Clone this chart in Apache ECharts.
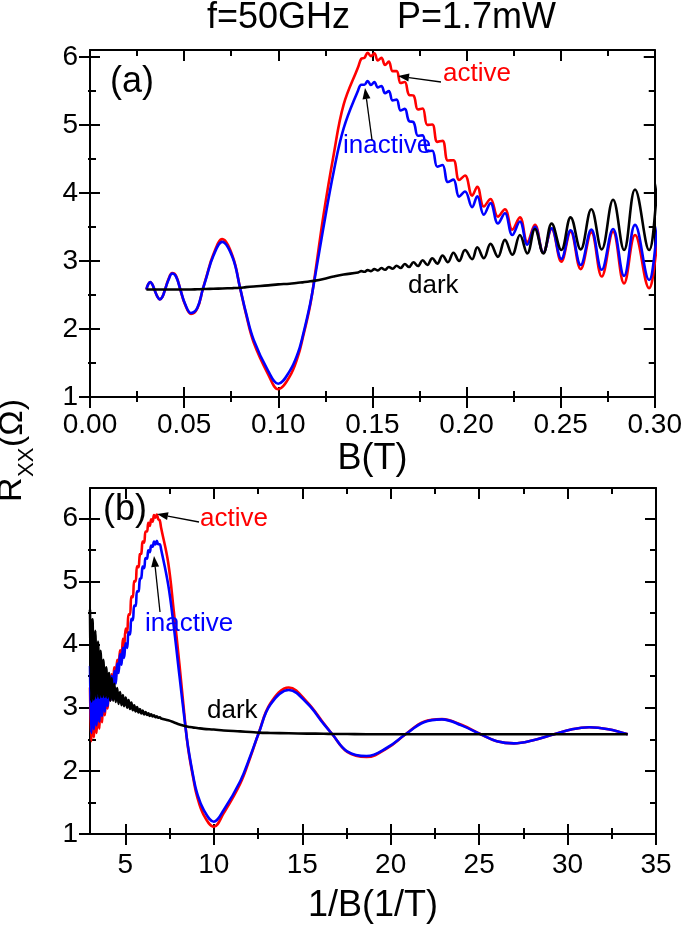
<!DOCTYPE html>
<html><head><meta charset="utf-8">
<script src="https://cdn.jsdelivr.net/npm/echarts@6/dist/echarts.min.js"></script>
<style>html,body{margin:0;padding:0;background:#fff}#c{width:685px;height:927px}</style>
</head><body><div id="c"></div>
<script>
// 1/B values (1/T) of the sampled points; panel (a) uses B = 1/(1/B)
const invB = [3.00,3.07,3.14,3.22,3.30,3.367,3.454,3.525,3.599,3.679,3.755,3.837,3.917,3.994,4.078,4.153,4.231,4.305,4.379,4.458,4.537,4.615,4.700,4.780,4.861,4.926,5.02,5.10,5.18,5.26,5.34,5.42,5.50,5.58,5.66,5.74,5.82,5.90,5.98,6.06,6.14,6.22,6.30,6.38,6.46,6.54,6.62,6.70,6.78,6.86,6.94,7.02,7.42,7.73,8.06,8.36,8.55,8.86,9.05,9.43,10.0,10.56,11.5,12.07,12.54,13.2,14.24,15.28,16.22,16.7,17.54,18.64,19.81,20.84,21.88,22.9,24.0,25.09,26.0,26.97,28.0,29.24,30.2,31.22,32.3,33.4];
const rActive = [3.32,2.47,3.34,2.53,3.36, 2.60,3.38,2.67,3.43,2.77, 3.42,2.88,3.43,2.99,3.47, 3.12,3.53,3.28,3.64,3.46, 3.76,3.65,3.91,3.80,4.09, 3.96,4.255,4.19,4.48,4.475, 4.765,4.75,5.005,5.00,5.24, 5.225,5.43,5.44,5.63,5.615, 5.79,5.79,5.93,5.88,5.985, 5.945,6.05,6.01,6.06,5.985, 5.97,5.85, 5.30,4.55,3.68,2.82,2.35, 1.85,1.60,1.30,1.115,1.33, 1.80,2.22,2.60,3.07,3.32, 3.09,2.75,2.58,2.30,2.22, 2.36,2.58,2.78,2.82,2.73, 2.58,2.47,2.435,2.48,2.58, 2.655,2.69,2.66,2.58];
const rInactive = [3.66,2.60,3.62,2.66,3.58, 2.72,3.53,2.78,3.47,2.87, 3.46,2.94,3.45,3.03,3.48, 3.12,3.50,3.24,3.58,3.38, 3.70,3.55,3.85,3.68,3.95, 3.79,4.02,3.945,4.195,4.16, 4.41,4.385,4.62,4.61,4.845, 4.84,5.04,5.055,5.235,5.21, 5.37,5.36,5.495,5.465,5.57, 5.55,5.63,5.585,5.645,5.59, 5.59,5.51, 4.95,4.30,3.50,2.78,2.37, 1.88,1.65,1.38,1.195,1.38, 1.84,2.24,2.60,3.05,3.28, 3.07,2.74,2.58,2.31,2.235, 2.37,2.58,2.77,2.815,2.72, 2.58,2.47,2.435,2.48,2.58, 2.655,2.69,2.66,2.58];
const rDark = [4.55,3.10,4.40,3.13,4.22, 3.16,4.05,3.16,3.90,3.17, 3.76,3.17,3.64,3.16,3.55, 3.11,3.47,3.11,3.38,3.09, 3.31,3.06,3.25,3.04,3.20, 3.025,3.16,3.00,3.12,2.98, 3.08,2.96,3.04,2.94,3.01, 2.925,2.98,2.91,2.955,2.895, 2.93,2.885,2.91,2.87,2.895, 2.86,2.88,2.85,2.865,2.84, 2.85,2.83, 2.80,2.77,2.735,2.71,2.70, 2.685,2.68,2.665,2.655,2.64, 2.625,2.615,2.605,2.60,2.595, 2.59,2.588,2.585,2.583,2.58, 2.58,2.58,2.58,2.58,2.58, 2.58,2.58,2.58,2.58,2.58, 2.58,2.58,2.58,2.58];

const xMajorA = [0,0.05,0.10,0.15,0.20,0.25,0.30];
const xMinorA = [0.025,0.075,0.125,0.175,0.225,0.275];
const xMajorB = [5,10,15,20,25,30,35];
const xMinorB = [7.5,12.5,17.5,22.5,27.5,32.5];
const yMajor = [1,2,3,4,5,6];
const yMinor = [1.5,2.5,3.5,4.5,5.5];

const FONT = 'Liberation Sans, Arial, sans-serif';
const black = '#000';

function tickAxes(dim, gridIndex, min, max, majors, minors, main) {
  const base = {type:'value', gridIndex, min, max, splitLine:{show:false}, axisLabel:{show:false}, axisLine:{show:false, onZero:false}, axisPointer:{show:false}};
  const mk = (pos, vals, inside, len, line, extra) => Object.assign({}, base, {
    position: pos,
    axisLine: {show: !!line, onZero:false, lineStyle:{color:black, width:2}},
    axisTick: {show:true, inside, length:len, customValues: vals, lineStyle:{color:black, width:2}}
  }, extra || {});
  const low = dim === 'x' ? 'bottom' : 'left';
  const high = dim === 'x' ? 'top' : 'right';
  return [
    mk(low, majors, false, 11, true, main),
    mk(low, majors, true, 10, false),
    mk(low, minors, true, 6, false),
    mk(low, minors, false, dim === 'x' ? 5 : 2, false),
    mk(high, majors, true, 11, true),
    mk(high, minors, true, 6, false)
  ];
}

const labelStyle = (fmt, margin) => ({show:true, customValues:null, formatter: fmt, fontSize:28, color:black, fontFamily:FONT, margin});

const xAxes = [].concat(
  tickAxes('x', 0, 0, 0.30, xMajorA, xMinorA, {
    axisLabel: Object.assign(labelStyle(v => v.toFixed(2), 14), {customValues: xMajorA}),
    name:'B(T)', nameLocation:'middle', nameGap:44,
    nameTextStyle:{fontSize:36, color:black, fontFamily:FONT, verticalAlign:'top'}
  }),
  tickAxes('x', 1, 3, 35, xMajorB, xMinorB, {
    axisLabel: Object.assign(labelStyle(v => String(v), 17), {customValues: xMajorB}),
    name:'1/B(1/T)', nameLocation:'middle', nameGap:54,
    nameTextStyle:{fontSize:36, color:black, fontFamily:FONT, verticalAlign:'top'}
  })
);
const yAxes = [].concat(
  tickAxes('y', 0, 1, 6.1, yMajor, yMinor, {
    axisLabel: Object.assign(labelStyle(v => String(v), 12), {customValues: yMajor})
  }),
  tickAxes('y', 1, 1, 6.48, yMajor, yMinor, {
    axisLabel: Object.assign(labelStyle(v => String(v), 12), {customValues: yMajor})
  })
);

function mkSeries(name, vals, color, panel) {
  const data = invB.map((u, i) => panel === 0 ? [1 / u, vals[i]] : [u, vals[i]]);
  return {
    name, type:'line', xAxisIndex: panel * 6, yAxisIndex: panel * 6,
    data, showSymbol:false, symbol:'none', smooth:0.4, clip:true,
    lineStyle:{color, width:2.6}, itemStyle:{color}, animation:false, silent:true
  };
}

const series = [];
[0, 1].forEach(p => {
  series.push(mkSeries('active', rActive, '#ff0000', p));
  series.push(mkSeries('inactive', rInactive, '#0000ff', p));
  series.push(mkSeries('dark', rDark, '#000000', p));
});

function txt(x, y, text, size, color, align, valign, rot) {
  return {type:'text', x, y, rotation: rot || 0, z:100,
    style:{text, fill: color, font: size + 'px ' + FONT, textAlign: align || 'left', textVerticalAlign: valign || 'middle'}};
}
function arrow(x1, y1, x2, y2) {
  const a = Math.atan2(y2 - y1, x2 - x1), L = 11, W = 4;
  const bx = x2 - L * Math.cos(a), by = y2 - L * Math.sin(a);
  const px = -Math.sin(a) * W, py = Math.cos(a) * W;
  return [
    {type:'line', z:100, shape:{x1, y1, x2: bx, y2: by}, style:{stroke:black, lineWidth:1.3}},
    {type:'polygon', z:100, shape:{points:[[x2, y2], [bx + px, by + py], [bx - px, by - py]]}, style:{fill:black}}
  ];
}

const graphics = [
  txt(207, 18, 'f=50GHz', 36, black),
  txt(397, 18, 'P=1.7mW', 36, black),
  txt(110, 82, '(a)', 36, black),
  txt(443, 74, 'active', 26, '#ff0000'),
  txt(343, 146, 'inactive', 26, '#0000ff'),
  txt(408, 286, 'dark', 26, black),
  txt(103, 510, '(b)', 36, black),
  txt(200, 519, 'active', 26, '#ff0000'),
  txt(145, 624, 'inactive', 26, '#0000ff'),
  txt(207, 711, 'dark', 26, black),
  txt(12, 502, 'R', 34, black, 'left', 'middle', Math.PI / 2),
  txt(27, 477, 'XX', 22, black, 'left', 'middle', Math.PI / 2),
  txt(13, 447, '(Ω)', 34, black, 'left', 'middle', Math.PI / 2)
].concat(
  arrow(441, 82, 398, 76),
  arrow(372, 140, 365, 88),
  arrow(199, 522, 157, 514),
  arrow(160, 612, 154, 556)
);

const chart = echarts.init(document.getElementById('c'), null, {renderer:'canvas'});
chart.setOption({
  animation:false,
  backgroundColor:'#fff',
  grid:[
    {left:90, top:50, width:566, height:347},
    {left:90, top:488, width:566, height:346}
  ],
  xAxis: xAxes,
  yAxis: yAxes,
  series,
  graphic: graphics
});
</script>
</body></html>
